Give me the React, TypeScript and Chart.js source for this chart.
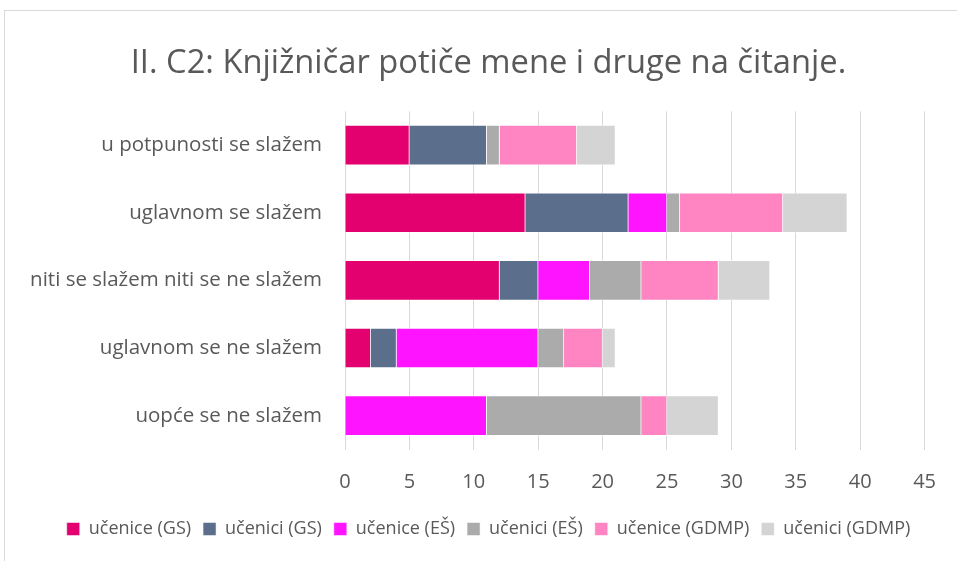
import React, { useEffect, useRef } from "react";
import { Chart, registerables } from "chart.js";

Chart.register(...registerables);

const categories = [
  "u potpunosti se slažem",
  "uglavnom se slažem",
  "niti se slažem niti se ne slažem",
  "uglavnom se ne slažem",
  "uopće se ne slažem",
];
const seriesNames = [
  "učenice (GS)",
  "učenici (GS)",
  "učenice (EŠ)",
  "učenici (EŠ)",
  "učenice (GDMP)",
  "učenici (GDMP)",
];
const uceniceGS = [5, 14, 12, 2, 0];
const uceniciGS = [6, 8, 3, 2, 0];
const uceniceES = [0, 3, 4, 11, 11];
const uceniciES = [1, 1, 4, 2, 12];
const uceniceGDMP = [6, 8, 6, 3, 2];
const uceniciGDMP = [3, 5, 4, 1, 4];
const seriesColors = ["#E3006F", "#5B6E8C", "#FF14FF", "#ABABAB", "#FF85C2", "#D4D4D4"];
const xTicks = [0, 5, 10, 15, 20, 25, 30, 35, 40, 45];

const FONT = "'Open Sans', 'Liberation Sans', sans-serif";

const widenLabelArea = {
  id: "widenLabelArea",
  afterLayout(chart: any) {
    if (chart.scales.y) chart.scales.y.left = 0;
  },
};

export default function App() {
  const ref = useRef<HTMLCanvasElement>(null);
  useEffect(() => {
    document.body.style.margin = "0";
    const values = [uceniceGS, uceniciGS, uceniceES, uceniciES, uceniceGDMP, uceniciGDMP];
    const chart = new Chart(ref.current!, {
      type: "bar",
      data: {
        labels: categories,
        datasets: seriesNames.map((name, i) => ({
          label: name,
          data: values[i],
          backgroundColor: seriesColors[i],
          borderColor: "rgba(255,255,255,0.5)",
          borderWidth: 1,
          barThickness: 40,
        })),
      },
      options: {
        indexAxis: "y",
        animation: false,
        responsive: false,
        maintainAspectRatio: false,
        layout: { padding: { left: 40, right: 20, top: 0, bottom: 13 } },
        scales: {
          x: {
            stacked: true,
            min: 0,
            max: 45,
            afterBuildTicks: (s: any) => {
              s.ticks = xTicks.map((v) => ({ value: v }));
            },
            afterFit: (s: any) => {
              s.height = 58.5;
            },
            grid: { color: "#D9D9D9", lineWidth: 1, drawTicks: false },
            border: { display: false },
            ticks: { color: "#595959", font: { family: FONT, size: 20 }, padding: 21 },
          },
          y: {
            stacked: true,
            grid: { display: false },
            border: { display: false },
            ticks: { color: "#595959", font: { family: FONT, size: 20.5 }, padding: 15 },
            afterFit: (s: any) => {
              s.width = 305;
            },
          },
        },
        plugins: {
          title: {
            display: true,
            text: "II. C2: Knjižničar potiče mene i druge na čitanje.",
            color: "#595959",
            font: { family: FONT, size: 32.7, weight: "normal" },
            padding: { top: 44, bottom: 28 },
          },
          legend: {
            position: "bottom",
            labels: {
              color: "#595959",
              font: { family: FONT, size: 18 },
              boxWidth: 13,
              boxHeight: 13,
              padding: 12,
            },
          },
          tooltip: { enabled: false },
        },
      },
      plugins: [widenLabelArea],
    });
    return () => chart.destroy();
  }, []);
  return (
    <div style={{ position: "relative", width: 957, height: 561, background: "#fff", overflow: "hidden" }}>
      <div
        style={{
          position: "absolute",
          left: 4,
          top: 10,
          width: 1000,
          height: 600,
          border: "1px solid #D9D9D9",
          boxSizing: "border-box",
        }}
      />
      <canvas ref={ref} width={957} height={561} style={{ position: "absolute", left: 0, top: 0 }} />
    </div>
  );
}
